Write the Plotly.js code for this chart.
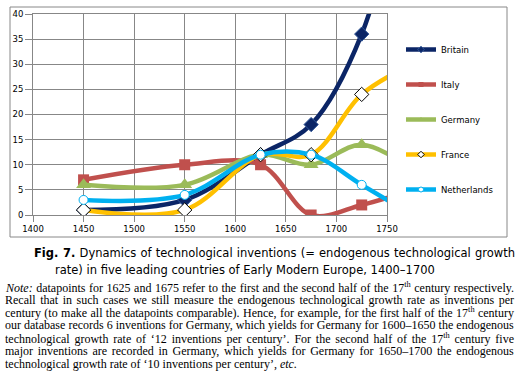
<!DOCTYPE html>
<html>
<head>
<meta charset="utf-8">
<script src="https://cdn.plot.ly/plotly-3.0.1.min.js"></script>
<style>html,body{margin:0;padding:0;background:#fff;}#chart{width:523px;height:377px;}</style>
</head>
<body>
<div id="chart"></div>
<script>
// ---- data ----
const years = [1450, 1550, 1625, 1675, 1725, 1775];
const britain = [1, 3, 12, 18, 36, 75];
const italy = [7, 10, 10, 0, 2, 5];
const germany = [6, 6, 12, 10, 14, 9];
const france = [1, 1, 12, 12, 24, 30];
const netherlands = [3, 4, 12, 12, 6, 0];
const seriesNames = ["Britain", "Italy", "Germany", "France", "Netherlands"];
const xTicks = [1400, 1450, 1500, 1550, 1600, 1650, 1700, 1750];
const yTicks = [0, 5, 10, 15, 20, 25, 30, 35, 40];

const captionLines = [
  "<b>Fig. 7.</b> Dynamics of technological inventions (= endogenous technological growth",
  "rate) in five leading countries of Early Modern Europe, 1400–1700"
];
const noteLines = [
  "<i>Note:</i> datapoints for 1625 and 1675 refer to the first and the second half of the 17<sup>th</sup> century respectively.",
  "Recall that in such cases we still measure the endogenous technological growth rate as inventions per",
  "century (to make all the datapoints comparable). Hence, for example, for the first half of the 17<sup>th</sup> century",
  "our database records 6 inventions for Germany, which yields for Germany for 1600–1650 the endogenous",
  "technological growth rate of ‘12 inventions per century’. For the second half of the 17<sup>th</sup> century five",
  "major inventions are recorded in Germany, which yields for Germany for 1650–1700 the endogenous",
  "technological growth rate of ‘10 inventions per century’, <i>etc.</i>"
];

// ---- layout geometry ----
const W = 523, H = 377;
const L = 33, R = 136, T = 14, B = 162;
const pw = W - L - R, ph = H - T - B;
const px = x => (x - L) / pw;
const py = y => (H - B - y) / ph;

const styles = [
  {color: "#0B2566", symbol: "diamond", msize: 11, mcolor: "#0B2566", mline: "#2E5597", mlw: 1},
  {color: "#C0504D", symbol: "square", msize: 11, mcolor: "#C0504D", mline: "#C0504D", mlw: 0},
  {color: "#9BBB59", symbol: "triangle-up", msize: 13, mcolor: "#9BBB59", mline: "#9BBB59", mlw: 0},
  {color: "#FFC000", symbol: "diamond", msize: 11, mcolor: "#FFFFFF", mline: "#000000", mlw: 1},
  {color: "#00B0F0", symbol: "circle", msize: 9, mcolor: "#FFFFFF", mline: "#00B0F0", mlw: 1}
];
const values = [britain, italy, germany, france, netherlands];

const traces = seriesNames.map((name, i) => ({
  type: "scatter", mode: "lines+markers", name: name, showlegend: false,
  x: years, y: values[i],
  line: {color: styles[i].color, width: 4.5, shape: "spline", smoothing: 1},
  marker: {symbol: styles[i].symbol, size: styles[i].msize, color: styles[i].mcolor,
           line: {color: styles[i].mline, width: styles[i].mlw}},
  cliponaxis: true
}));
// legend entries (small markers as in the reference legend)
seriesNames.forEach((name, i) => {
  traces.push({
    type: "scatter", mode: "lines+markers", name: name, legendgroup: name, showlegend: true,
    x: [null], y: [null],
    line: {color: styles[i].color, width: 4.5},
    marker: {symbol: styles[i].symbol, size: 5, color: styles[i].mcolor,
             line: {color: styles[i].mline, width: styles[i].mlw}}
  });
});

const lineLeft = [];
const annotations = [];
function addLine(text, left, yc, font) {
  lineLeft.push(left);
  annotations.push({xref: "paper", yref: "paper", x: px(left), y: py(yc), xanchor: "left", yanchor: "middle",
    align: "left", text: text, showarrow: false, font: font});
}
const capFont = {family: "DejaVu Sans", size: 11.5, color: "#000"};
const noteFont = {family: "Liberation Serif", size: 12, color: "#000"};
addLine(captionLines[0], 32, 253, capFont);
addLine(captionLines[1], 53, 270, capFont);
noteLines.forEach((t, i) => addLine(t, 3, 287 + i * 12.8, noteFont));

const layout = {
  width: W, height: H,
  margin: {l: L, r: R, t: T, b: B, pad: 0},
  paper_bgcolor: "#fff", plot_bgcolor: "#fff",
  font: {family: "DejaVu Sans", size: 8.5, color: "#000"},
  showlegend: true,
  legend: {x: px(401), y: py(35), xanchor: "left", yanchor: "top", tracegroupgap: 16,
           font: {family: "DejaVu Sans", size: 8.5, color: "#000"}, bgcolor: "rgba(0,0,0,0)", itemwidth: 30},
  xaxis: {range: [1400, 1750], tickvals: xTicks, ticktext: xTicks.map(String), showgrid: true,
          gridcolor: "#878787", gridwidth: 1, zeroline: false, showline: true, linecolor: "#878787", mirror: true,
          ticks: "outside", ticklen: 6, tickcolor: "#878787", fixedrange: true},
  yaxis: {range: [0, 40], tickvals: yTicks, ticktext: yTicks.map(String), showgrid: true,
          gridcolor: "#878787", gridwidth: 1, zeroline: false, showline: true, linecolor: "#878787", mirror: true,
          ticks: "outside", ticklen: 7, tickcolor: "#878787", fixedrange: true},
  shapes: [{type: "rect", xref: "paper", yref: "paper", x0: px(10), x1: px(507), y0: py(237), y1: py(7),
            line: {color: "#888", width: 1}, fillcolor: "rgba(0,0,0,0)", layer: "below"}],
  annotations: annotations
};

// justified lines: annotation index -> target right edge (px)
const justify = {0: 513, 2: 512, 3: 512, 4: 512, 5: 512, 6: 512, 7: 512};

Plotly.newPlot("chart", traces, layout, {staticPlot: true, displayModeBar: false}).then(gd => {
  Object.keys(justify).forEach(k => {
    const el = gd.querySelector('.annotation[data-index="' + k + '"] .annotation-text');
    if (!el) return;
    const w = el.getBBox().width;
    const target = justify[k] - lineLeft[k];
    const spaces = (el.textContent.match(/ /g) || []).length;
    if (spaces > 0) {
      const ws = (target - w) / spaces;
      el.style.wordSpacing = ws.toFixed(2) + "px";
    }
  });
});
</script>
</body>
</html>
